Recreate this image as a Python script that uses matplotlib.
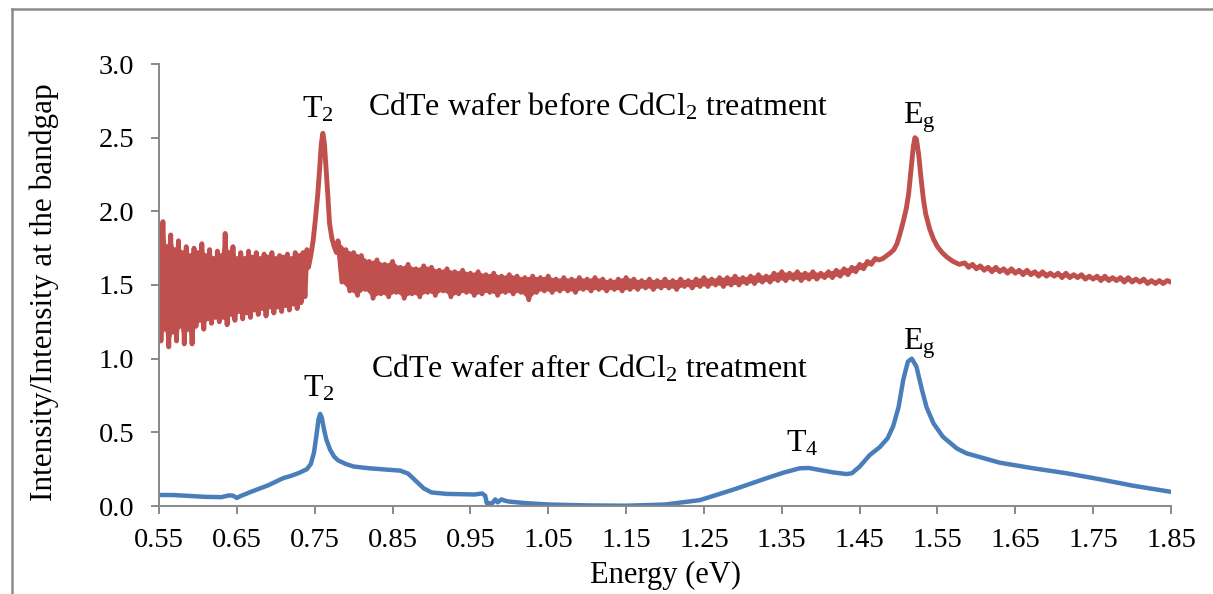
import numpy as np
import matplotlib
matplotlib.use("Agg")
import matplotlib.pyplot as plt
from matplotlib.lines import Line2D

plt.rcParams['font.family'] = ['Liberation Serif', 'DejaVu Serif']
plt.rcParams['mathtext.fontset'] = 'custom'
plt.rcParams['mathtext.rm'] = 'Liberation Serif'
plt.rcParams['mathtext.it'] = 'Liberation Serif:italic'

# ---------------- data ----------------
x_ticks = [0.55, 0.65, 0.75, 0.85, 0.95, 1.05, 1.15, 1.25, 1.35, 1.45, 1.55, 1.65, 1.75, 1.85]
y_ticks = [0.0, 0.5, 1.0, 1.5, 2.0, 2.5, 3.0]

# before CdCl2 treatment (noisy spectrum); noisy segments alternate high / low samples
# segment 1: 0.55-0.74 eV sampled every 0.0025 eV
red_seg1_y = [1.80, 1.12, 1.93, 1.20, 1.76, 1.08, 1.84, 1.18, 1.74, 1.12,
              1.80, 1.22, 1.72, 1.10, 1.76, 1.20, 1.70, 1.10, 1.75, 1.22,
              1.72, 1.26, 1.78, 1.20, 1.70, 1.27, 1.74, 1.24, 1.68, 1.28,
              1.73, 1.25, 1.70, 1.28, 1.85, 1.23, 1.72, 1.30, 1.76, 1.26,
              1.68, 1.32, 1.72, 1.27, 1.68, 1.31, 1.73, 1.28, 1.69, 1.33,
              1.72, 1.30, 1.68, 1.34, 1.71, 1.29, 1.69, 1.35, 1.72, 1.31,
              1.68, 1.35, 1.70, 1.32, 1.69, 1.36, 1.71, 1.33, 1.68, 1.37,
              1.72, 1.34, 1.70, 1.38, 1.72, 1.42, 1.74]
red_seg1_x = np.linspace(0.55, 0.74, len(red_seg1_y))

# segment 2: T2 peak
red_seg2_x = [0.742, 0.745, 0.748, 0.751, 0.754, 0.7565, 0.7585, 0.7605, 0.7625,
              0.7645, 0.767, 0.769, 0.772, 0.775, 0.778]
red_seg2_y = [1.62, 1.70, 1.80, 1.95, 2.12, 2.30, 2.46, 2.53, 2.46,
              2.30, 2.10, 1.92, 1.82, 1.76, 1.72]

# segment 3: 0.780-1.475 eV every 0.005 eV
red_seg3_y = [1.80, 1.52, 1.74, 1.46, 1.72, 1.43, 1.70, 1.47, 1.66, 1.41,
              1.67, 1.44, 1.64, 1.42, 1.66, 1.45, 1.62, 1.41, 1.64, 1.44,
              1.61, 1.42, 1.63, 1.45, 1.62, 1.43, 1.60, 1.46, 1.61, 1.42,
              1.59, 1.44, 1.60, 1.45, 1.58, 1.43, 1.59, 1.44, 1.57, 1.45,
              1.58, 1.43, 1.56, 1.45, 1.57, 1.44, 1.56, 1.45, 1.55, 1.40,
              1.56, 1.45, 1.55, 1.46, 1.56, 1.45, 1.54, 1.46, 1.55, 1.46,
              1.54, 1.45, 1.55, 1.47, 1.54, 1.46, 1.55, 1.47, 1.54, 1.46,
              1.53, 1.47, 1.54, 1.46, 1.55, 1.47, 1.54, 1.47, 1.53, 1.48,
              1.54, 1.47, 1.53, 1.48, 1.54, 1.48, 1.53, 1.47, 1.54, 1.49,
              1.53, 1.48, 1.54, 1.49, 1.55, 1.49, 1.54, 1.50, 1.55, 1.49,
              1.55, 1.50, 1.56, 1.50, 1.55, 1.51, 1.56, 1.51, 1.57, 1.52,
              1.56, 1.52, 1.58, 1.53, 1.59, 1.53, 1.58, 1.54, 1.59, 1.53,
              1.58, 1.54, 1.59, 1.54, 1.58, 1.55, 1.59, 1.55, 1.60, 1.56,
              1.61, 1.57, 1.62, 1.59, 1.64, 1.61, 1.66, 1.64, 1.68, 1.67]
red_seg3_x = np.linspace(0.78, 1.475, len(red_seg3_y))

# segment 4: Eg peak
red_seg4_x = [1.480, 1.485, 1.490, 1.494, 1.498, 1.502, 1.506, 1.510, 1.513, 1.516,
              1.519, 1.521, 1.523, 1.526, 1.529, 1.532, 1.535, 1.540, 1.545, 1.550,
              1.556, 1.562, 1.570, 1.578]
red_seg4_y = [1.68, 1.70, 1.72, 1.74, 1.78, 1.85, 1.93, 2.02, 2.12, 2.28,
              2.44, 2.50, 2.49, 2.38, 2.22, 2.08, 1.98, 1.88, 1.81, 1.76,
              1.72, 1.69, 1.66, 1.64]

# segment 5: 1.585-1.850 eV every 0.005 eV
red_seg5_y = [1.65, 1.62, 1.64, 1.61, 1.63, 1.60, 1.62, 1.59, 1.62, 1.59,
              1.61, 1.58, 1.61, 1.58, 1.60, 1.57, 1.60, 1.57, 1.59, 1.56,
              1.59, 1.56, 1.58, 1.56, 1.58, 1.55, 1.58, 1.55, 1.57, 1.55,
              1.57, 1.54, 1.56, 1.54, 1.56, 1.53, 1.56, 1.53, 1.55, 1.53,
              1.55, 1.52, 1.55, 1.52, 1.54, 1.52, 1.54, 1.51, 1.53, 1.51,
              1.53, 1.51, 1.53, 1.52]
red_seg5_x = np.linspace(1.585, 1.85, len(red_seg5_y))

# after CdCl2 treatment (smooth spectrum)
blue_x = [0.550, 0.570, 0.590, 0.610, 0.630, 0.640, 0.645, 0.650, 0.655, 0.670,
          0.690, 0.700, 0.710, 0.720, 0.730, 0.740, 0.745, 0.749, 0.752, 0.755,
          0.757, 0.759, 0.762, 0.765, 0.770, 0.775, 0.780, 0.790, 0.800, 0.820,
          0.840, 0.860, 0.870, 0.880, 0.890, 0.900, 0.920, 0.940, 0.955, 0.965,
          0.969, 0.971, 0.978, 0.982, 0.985, 0.990, 0.995, 1.000, 1.020, 1.050,
          1.100, 1.150, 1.200, 1.245, 1.290, 1.330, 1.352, 1.373, 1.385, 1.395,
          1.416, 1.433, 1.440, 1.450, 1.463, 1.476, 1.486, 1.493, 1.500, 1.506,
          1.512, 1.517, 1.523, 1.530, 1.536, 1.545, 1.557, 1.575, 1.587, 1.630,
          1.673, 1.716, 1.759, 1.801, 1.849]
blue_y = [0.075, 0.074, 0.068, 0.062, 0.060, 0.072, 0.070, 0.055, 0.068, 0.100,
          0.140, 0.165, 0.190, 0.205, 0.225, 0.250, 0.285, 0.360, 0.470, 0.590,
          0.625, 0.600, 0.520, 0.450, 0.380, 0.335, 0.310, 0.285, 0.268, 0.256,
          0.248, 0.240, 0.220, 0.170, 0.120, 0.092, 0.082, 0.080, 0.078, 0.085,
          0.070, 0.020, 0.018, 0.045, 0.025, 0.045, 0.035, 0.030, 0.020, 0.010,
          0.004, 0.002, 0.010, 0.040, 0.115, 0.188, 0.226, 0.256, 0.258, 0.248,
          0.228, 0.217, 0.222, 0.267, 0.346, 0.400, 0.460, 0.540, 0.670, 0.855,
          0.980, 1.000, 0.946, 0.790, 0.670, 0.560, 0.470, 0.390, 0.358, 0.294,
          0.256, 0.222, 0.181, 0.138, 0.097]

red_x = np.concatenate([red_seg1_x, red_seg2_x, red_seg3_x, red_seg4_x, red_seg5_x])
red_y = np.concatenate([red_seg1_y, red_seg2_y, red_seg3_y, red_seg4_y, red_seg5_y])

RED = '#C0504D'
BLUE = '#4A7EBB'
GRAY = '#898989'

W, H = 1213, 594
fig = plt.figure(figsize=(W / 100, H / 100), dpi=100)
ax = fig.add_axes([159 / W, 1 - 506 / H, (1171 - 159) / W, (506 - 64) / H])


def noisy_band(xs, ys):
    """Fill between the high samples (even) and the low samples (odd) of a noisy segment."""
    xs = np.asarray(xs)
    ys = np.asarray(ys)
    px = np.concatenate([xs[0::2], xs[1::2][::-1]])
    py = np.concatenate([ys[0::2], ys[1::2][::-1]])
    ax.fill(px, py, color=RED, lw=0)


for sx, sy in [(red_seg1_x, red_seg1_y), (red_seg3_x, red_seg3_y), (red_seg5_x, red_seg5_y)]:
    noisy_band(sx, sy)
ax.plot(red_x, red_y, color=RED, lw=3.5, solid_joinstyle='round')
ax.plot(blue_x, blue_y, color=BLUE, lw=3.2, solid_joinstyle='round', solid_capstyle='round')

ax.set_xlim(0.55, 1.85)
ax.set_ylim(0, 3.0)
ax.set_xticks(x_ticks)
ax.set_xticklabels([f"{v:.2f}" for v in x_ticks])
ax.set_yticks(y_ticks)
ax.set_yticklabels([f"{v:.1f}" for v in y_ticks])

for s in ['top', 'right']:
    ax.spines[s].set_visible(False)
for s in ['left', 'bottom']:
    ax.spines[s].set_color(GRAY)
    ax.spines[s].set_linewidth(1.4)
ax.tick_params(axis='both', direction='out', length=6, width=1.4, color=GRAY,
               labelsize=20.5, labelcolor='black')
ax.tick_params(axis='x', pad=10)
ax.tick_params(axis='y', pad=12)

ax.set_xlabel('Energy (eV)', fontsize=22)
ax.xaxis.set_label_coords(0.5, -0.125)
ax.set_ylabel('Intensity/Intensity at the bandgap', fontsize=22.5)
ax.yaxis.set_label_coords(-0.099, 0.484)

fs = 23
ax.text(0.7337, 2.634, 'T$_2$', fontsize=fs, ha='left', va='baseline')
ax.text(0.8185, 2.650, 'CdTe wafer before CdCl$_2$ treatment', fontsize=fs, ha='left', va='baseline')
ax.text(1.506, 2.598, r'E$_\mathrm{g}$', fontsize=fs, ha='left', va='baseline')
ax.text(0.735, 0.742, 'T$_2$', fontsize=fs, ha='left', va='baseline')
ax.text(0.8223, 0.871, 'CdTe wafer after CdCl$_2$ treatment', fontsize=fs, ha='left', va='baseline')
ax.text(1.3554, 0.369, 'T$_4$', fontsize=fs, ha='left', va='baseline')
ax.text(1.506, 1.064, r'E$_\mathrm{g}$', fontsize=fs, ha='left', va='baseline')

# outer chart-area border (top and left edges visible)
bx, by = 11.5 / W, 1 - 8.5 / H
fig.add_artist(Line2D([bx, 1.0], [by, by], transform=fig.transFigure, color='#8C8C8C', lw=1.8))
fig.add_artist(Line2D([bx, bx], [by, 0.0], transform=fig.transFigure, color='#8C8C8C', lw=1.8))

fig.savefig('out.png', dpi=100)
